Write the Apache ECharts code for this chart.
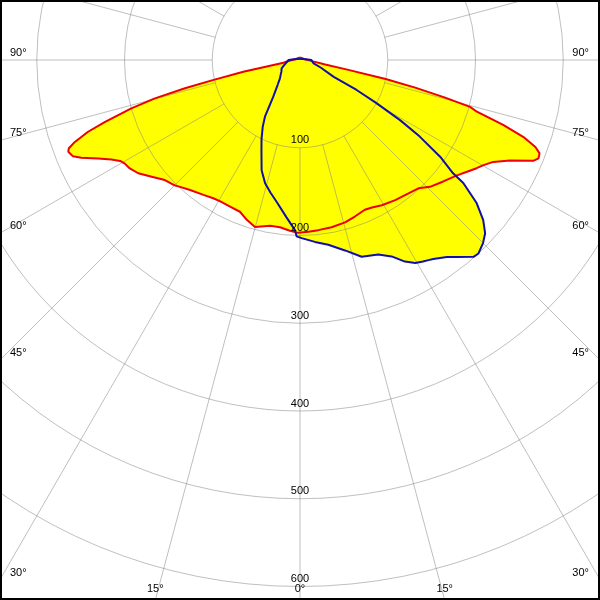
<!DOCTYPE html>
<html>
<head>
<meta charset="utf-8">
<script src="https://cdn.jsdelivr.net/npm/echarts@6/dist/echarts.min.js"></script>
<style>
html,body{margin:0;padding:0;background:#fff;}
#chart{width:600px;height:600px;}
</style>
</head>
<body>
<div id="chart"></div>
<script>
// Luminous intensity (cd) vs angle (deg, 0 = straight down, + = right)
const redPlane = [
  [-180,3],[-100,5],[-90,9],[-84,14],[-80.8,19],[-78.3,66],[-77,102],[-76.2,135],[-75.2,171],[-74,200],
  [-72.4,233],[-71.3,255],[-70,273],[-69.1,282],[-68.4,284],[-67,281],[-65.9,273],[-64,256],[-62.2,243],
  [-60.7,235],[-59.4,232],[-57.5,230],[-55,225],[-51.8,215],[-48.4,206],[-45,202],[-43.4,199],[-40.2,194],
  [-35.6,189],[-32.1,186],[-29.4,185],[-25.5,185],[-21.6,186],[-18.4,192],[-15.1,197],[-10.2,192],[-6.8,192],
  [-3.4,195],[-0.6,197],[2.8,196],[6.1,195],[10.7,194],[15.5,192],[19.3,189],[23.4,186],[26,187],[29.4,190],
  [34.2,193],[39.1,196],[42.7,199],[45.7,207],[49.7,214],[53.7,222],[56.2,229],[58.5,236],[60.2,241],
  [62.2,249],[64.4,265],[66.7,290],[67.6,294],[68.7,293],[69.7,286],[71,269],[72.3,243],[73.7,210],
  [74.6,201],[75.5,170],[76.5,135],[77.5,100],[78.5,55],[80,28],[84,15],[90,9],[100,5],[180,3]
];
const bluePlane = [
  [-180,1],[-120,3],[-90,13],[-82.7,15],[-72,19],[-65.6,23],[-58,25],[-54,27],[-47.5,31],[-42,38],
  [-36,52],[-31.7,76],[-29.2,87],[-26,100],[-23.1,112],[-19.2,133],[-15.8,146],[-12.5,155],[-9.3,164],
  [-4.9,180],[-1.7,194],[-1.1,201],[0.5,203],[4.7,208],[8.7,213],[13.3,223],[17.4,235],[21.9,239],[25,247],
  [27.5,259],[29.6,266],[31.4,269],[32.7,271],[33.8,273],[36.7,280],[38.5,287],[41.4,299],[42.7,300],
  [45,295],[46.9,289],[48.9,277],[51,259],[53,233],[53.5,217],[55.4,194],[57.4,162],[59,133],[60.6,100],
  [62.1,73],[63.4,43],[70,25],[76.1,16],[90,13],[120,3],[180,1]
];
const radiusTicks = [100, 200, 300, 400, 500, 600];
const spokeAngles = [-165,-150,-135,-120,-105,-90,-75,-60,-45,-30,-15,0,15,30,45,60,75,90,105,120,135,150,165,180];
const angleTickLabels = [-90,-75,-60,-45,-30,-15,0,15,30,45,60,75,90];

const GRID = 'rgba(128,128,128,0.5)';
const FONT = '"Liberation Sans", Arial, sans-serif';

const toData = arr => arr.map(d => [d[1], d[0]]); // [radius, angle]

const chart = echarts.init(document.getElementById('chart'), null, {renderer: 'canvas'});
chart.setOption({
  animation: false,
  backgroundColor: '#fff',
  polar: {center: [300, 60], radius: 526.5},
  angleAxis: {
    type: 'value', min: 0, max: 360, startAngle: 270, clockwise: false,
    axisLine: {show: false}, axisTick: {show: false}, axisLabel: {show: false}, splitLine: {show: false}
  },
  radiusAxis: {
    type: 'value', min: 0, max: 600, interval: 100, z: 10,
    axisLine: {show: false}, axisTick: {show: false}, splitLine: {show: false}, splitArea: {show: false},
    axisLabel: {
      show: true, margin: 0, align: 'center', verticalAlign: 'bottom', padding: [0, 0, 2, 0],
      color: '#000', fontSize: 11, fontFamily: FONT,
      formatter: v => (radiusTicks.indexOf(v) >= 0 ? String(v) : '')
    }
  },
  graphic: [{
    type: 'rect', z: 100, shape: {x: 1, y: 1, width: 598, height: 598},
    style: {fill: 'none', stroke: '#000', lineWidth: 2}
  }],
  series: [
    {type: 'line', coordinateSystem: 'polar', data: toData(redPlane), symbol: 'none', z: 1,
     lineStyle: {width: 0, opacity: 0}, areaStyle: {color: '#ffff00', opacity: 1}, silent: true},
    {type: 'line', coordinateSystem: 'polar', data: toData(bluePlane), symbol: 'none', z: 1,
     lineStyle: {width: 0, opacity: 0}, areaStyle: {color: '#ffff00', opacity: 1}, silent: true},
    {type: 'custom', coordinateSystem: 'polar', z: 2, silent: true,
     data: radiusTicks.map(r => [r, 0]),
     renderItem: (params, api) => {
       const c = api.coord([0, 0]);
       const p = api.coord([api.value(0), 0]);
       return {type: 'circle', shape: {cx: c[0], cy: c[1], r: Math.hypot(p[0]-c[0], p[1]-c[1])},
               style: {fill: 'none', stroke: GRID, lineWidth: 1}};
     }},
    {type: 'custom', coordinateSystem: 'polar', z: 2, silent: true,
     data: spokeAngles.map(a => [radiusTicks[0], a]),
     renderItem: (params, api) => {
       const a = api.value(1);
       const p0 = api.coord([api.value(0), a]);
       const p1 = api.coord([3000, a]);
       return {type: 'line', shape: {x1: p0[0], y1: p0[1], x2: p1[0], y2: p1[1]},
               style: {stroke: GRID, lineWidth: 1}};
     }},
    {type: 'line', coordinateSystem: 'polar', data: toData(redPlane), symbol: 'none', z: 3,
     lineStyle: {width: 2, color: '#ee0000'}, silent: true},
    {type: 'line', coordinateSystem: 'polar', data: toData(bluePlane), symbol: 'none', z: 4,
     lineStyle: {width: 2, color: '#1010a8'}, silent: true},
    {type: 'custom', coordinateSystem: 'polar', z: 5, silent: true,
     data: angleTickLabels.map(a => [0, a]),
     renderItem: (params, api) => {
       const a = api.value(1);
       const c = api.coord([0, a]);
       const p = api.coord([100, a]);
       const dx = p[0]-c[0], dy = p[1]-c[1];
       const W = api.getWidth(), H = api.getHeight();
       let t = Infinity;
       if (dx < -1e-6) t = Math.min(t, (0 - c[0]) / dx);
       if (dx > 1e-6) t = Math.min(t, (W - c[0]) / dx);
       if (dy > 1e-6) t = Math.min(t, (H - c[1]) / dy);
       if (dy < -1e-6) t = Math.min(t, (0 - c[1]) / dy);
       const hx = c[0] + dx * t, hy = c[1] + dy * t;
       let x, y, align;
       if (Math.abs(hy - H) < 0.5) { x = hx; y = H - 11; align = 'center'; }
       else if (hx < W / 2) { x = 10; y = hy - 7; align = 'left'; }
       else { x = W - 11; y = hy - 7; align = 'right'; }
       return {type: 'text', style: {text: Math.abs(a) + '°', x: x, y: y, align: align,
               verticalAlign: 'middle', fontSize: 11, fontFamily: FONT, fill: '#000'}};
     }}
  ]
});
</script>
</body>
</html>
